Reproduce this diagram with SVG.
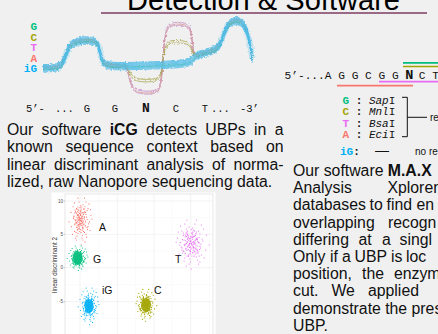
<svg xmlns="http://www.w3.org/2000/svg" width="438" height="334" viewBox="0 0 438 334">
<defs>
<style>
.t{font-family:"Liberation Sans",Arial,sans-serif;font-size:15.8px;fill:#111}
.b{font-weight:bold}
.mono{font-family:"Liberation Mono","Courier New",monospace;fill:#111}
.tr{fill:none;stroke-width:0.8;stroke-linejoin:round}
.grid{stroke:#ebebeb;stroke-width:0.6}
.gridm{stroke:#f5f5f5;stroke-width:0.4}
.tick{font-family:"Liberation Sans",Arial,sans-serif;font-size:4.5px;fill:#4d4d4d;text-anchor:end}
.lab{font-family:"Liberation Sans",Arial,sans-serif;font-size:10.5px;fill:#111}
.sm{font-family:"Liberation Sans",Arial,sans-serif;font-size:10px;fill:#111}
.cG{fill:#00BF7D}.cC{fill:#A3A500}.cT{fill:#E76BF3}.cA{fill:#F8766D}.ciG{fill:#00B0F6}
.bar{stroke-width:1.7}
</style>
<filter id="fz" x="-5%" y="-20%" width="110%" height="140%">
<feTurbulence type="fractalNoise" baseFrequency="0.45" numOctaves="2" seed="3"/>
<feDisplacementMap in="SourceGraphic" scale="3.5" xChannelSelector="R" yChannelSelector="G"/>
</filter>
<path id="tr" d="M43,68 C50,68 56,68 60,66 C64,63 66,52 70,46 C73,42 78,41 85,40.5 C92,40 96,41 98,45 C100,50 101,60 104,63 C107,66 115,66 125,66 L160,65 C175,64 186,64 191,61 C194,58 196,55 201,54 C208,52 214,51 218,47 C222,42 224,30 229,24 C233,20 238,20 242,23 C246,27 248,35 250,44 C251,50 252,55 252,59"/>
<path id="trP" d="M43,68 C50,68 56,68 60,66 C64,63 66,52 70,46 C73,42 78,41 85,40.5 C92,40 96,41 98,45 C100,50 101,60 104,63 C107,66 115,66 125,66 C128,67 129,80 133,88 C136,93 150,94 157,91 C161,88 162,75 163,60 C164,45 165,30 169,26 C173,23 183,23 188,26 C192,29 192,45 194,54 C196,56 198,55 201,54 C208,52 214,51 218,47 C222,42 224,30 229,24 C233,20 238,20 242,23 C246,27 248,35 250,44 C251,50 252,55 252,59"/>
<path id="trC" d="M43,68 C50,68 56,68 60,66 C64,63 66,52 70,46 C73,42 78,41 85,40.5 C92,40 96,41 98,45 C100,50 101,60 104,63 C107,66 115,66 125,66 C128,67 130,75 134,78 C138,81 152,81 157,79 C161,77 162,70 163,60 C164,50 166,44 170,42 C175,41 185,41 189,44 C192,47 192,52 194,55 C196,56 198,55 201,54 C208,52 214,51 218,47 C222,42 224,30 229,24 C233,20 238,20 242,23 C246,27 248,35 250,44 C251,50 252,55 252,59"/>
<path id="pts" fill="none" stroke-linecap="round" vector-effect="non-scaling-stroke" d="M3,-5h.01M-8,2h.01M12,7h.01M-2,-14h.01M5,11h.01M-15,-3h.01M0,4h.01M9,-9h.01M-6,13h.01M17,1h.01M-11,-10h.01M2,18h.01M7,-2h.01M-4,-20h.01M14,-13h.01M-19,6h.01M1,-1h.01M-7,-6h.01M10,14h.01M-1,9h.01M6,3h.01M-13,11h.01M4,-17h.01M-3,-8h.01M20,-6h.01M-9,20h.01M11,-4h.01M-5,5h.01M8,22h.01M-16,-15h.01M0,-11h.01M13,9h.01M-10,-1h.01M3,15h.01M-2,0h.01M16,-18h.01M-12,4h.01M5,-7h.01M-6,-24h.01M9,5h.01M-20,-9h.01M2,-3h.01M-4,8h.01M12,-11h.01M-8,16h.01M7,12h.01M-1,-16h.01M18,10h.01M-14,-5h.01M4,1h.01M1,25h.01M-3,-2h.01M10,-20h.01M-7,9h.01M6,-13h.01M-17,14h.01M15,3h.01M-9,-13h.01M0,12h.01M22,-2h.01M-5,-4h.01M3,7h.01M-11,18h.01M8,-15h.01M-2,3h.01M11,17h.01M-24,1h.01M6,-9h.01M-6,-12h.01M14,6h.01M-1,-7h.01M4,20h.01M-13,-19h.01M9,0h.01M-8,7h.01M19,-12h.01M2,10h.01M-4,-1h.01M7,-24h.01M-10,12h.01"/>
</defs>

<rect width="438" height="334" fill="#f0f0f0"/>

<g id="title">
<text x="127" y="10" font-family="Liberation Sans, Arial, sans-serif" font-size="29" fill="#000" textLength="273" lengthAdjust="spacingAndGlyphs">Detection &amp; Software</text>
<line x1="101" y1="13" x2="427" y2="13" stroke="#7d3c62" stroke-width="1.6"/>
</g>

<g id="traces" class="tr" filter="url(#fz)">
<use href="#tr" stroke="#5cc4ea" stroke-width="6" opacity="0.3"/>
<use href="#trP" stroke="#c387c9" transform="translate(0,-1.5)"/>
<use href="#trP" stroke="#c98fc0" transform="translate(0,1.5)"/>
<use href="#trP" stroke="#d59a95" transform="translate(0,0.3)"/>
<use href="#trC" stroke="#aaa64c" transform="translate(0,-1)"/>
<use href="#trC" stroke="#a9a755" transform="translate(0,1.5)"/>
<use href="#tr" stroke="#3ebf8c" transform="translate(0,1)"/>
<use href="#tr" stroke="#49b9e6" transform="translate(0,-3.5)"/>
<use href="#tr" stroke="#49b9e6" transform="translate(0,-2.5)"/>
<use href="#tr" stroke="#56bfe8" transform="translate(0,-1.5)"/>
<use href="#tr" stroke="#49b9e6" transform="translate(0,-0.5)"/>
<use href="#tr" stroke="#56bfe8" transform="translate(0,0.5)"/>
<use href="#tr" stroke="#49b9e6" transform="translate(0,1.8)"/>
<use href="#tr" stroke="#56bfe8" transform="translate(0,2.8)"/>
<use href="#tr" stroke="#49b9e6" transform="translate(0,3.8)"/>
</g>

<g id="trace-legend" class="mono b" font-size="11" text-anchor="end">
<text x="37" y="29.5" class="cG">G</text>
<text x="37" y="40.5" class="cC">C</text>
<text x="37" y="51" class="cT">T</text>
<text x="37" y="61.5" class="cA">A</text>
<text x="37" y="72" class="ciG">iG</text>
</g>

<g id="seq-left" class="mono" font-size="10.5">
<text x="26" y="111.5">5’-</text>
<text x="55" y="111.5">...</text>
<text x="87" y="111.5" text-anchor="middle">G</text>
<text x="115" y="111.5" text-anchor="middle">G</text>
<text x="146" y="111.5" text-anchor="middle" font-size="13" font-weight="bold">N</text>
<text x="176" y="111.5" text-anchor="middle">C</text>
<text x="205" y="111.5" text-anchor="middle">T</text>
<text x="211" y="111.5">...</text>
<text x="240" y="111.5">-3’</text>
</g>

<g id="text-left" class="t">
<text y="134.5"><tspan x="7">Our</tspan><tspan x="41.6">software</tspan><tspan x="109.7" class="b">iCG</tspan><tspan x="146.1">detects</tspan><tspan x="205.3">UBPs</tspan><tspan x="254">in</tspan><tspan x="274.7">a</tspan></text>
<text y="152"><tspan x="7">known</tspan><tspan x="65.4">sequence</tspan><tspan x="146.6">context</tspan><tspan x="210.2">based</tspan><tspan x="265.9">on</tspan></text>
<text y="169.5"><tspan x="7">linear</tspan><tspan x="53.9">discriminant</tspan><tspan x="146.5">analysis</tspan><tspan x="211.9">of</tspan><tspan x="233.4">norma-</tspan></text>
<text x="7" y="187">lized, raw Nanopore sequencing data.</text>
</g>

<g id="lda-plot">
<rect x="51.5" y="192.5" width="164" height="142" fill="#fff"/>
<g class="gridm">
<line x1="98.7" y1="194" x2="98.7" y2="334"/><line x1="135.7" y1="194" x2="135.7" y2="334"/><line x1="172.3" y1="194" x2="172.3" y2="334"/><line x1="209.5" y1="194" x2="209.5" y2="334"/>
<line x1="65" y1="217.7" x2="213" y2="217.7"/><line x1="65" y1="251" x2="213" y2="251"/><line x1="65" y1="284.7" x2="213" y2="284.7"/><line x1="65" y1="318.5" x2="213" y2="318.5"/>
</g>
<g class="grid">
<line x1="80" y1="194" x2="80" y2="334"/><line x1="117.3" y1="194" x2="117.3" y2="334"/><line x1="154" y1="194" x2="154" y2="334"/><line x1="190.7" y1="194" x2="190.7" y2="334"/>
<line x1="65" y1="201" x2="213" y2="201"/><line x1="65" y1="234.3" x2="213" y2="234.3"/><line x1="65" y1="267.7" x2="213" y2="267.7"/><line x1="65" y1="301.7" x2="213" y2="301.7"/>
</g>
<rect x="65" y="194" width="148" height="142" fill="none" stroke="#d6d6d6" stroke-width="0.6"/>
<g stroke="#999" stroke-width="0.5">
<line x1="63.5" y1="201" x2="65" y2="201"/><line x1="63.5" y1="234.3" x2="65" y2="234.3"/><line x1="63.5" y1="267.7" x2="65" y2="267.7"/><line x1="63.5" y1="301.7" x2="65" y2="301.7"/>
</g>
<text class="tick" x="63" y="202.6">10</text>
<text class="tick" x="63" y="235.9">5</text>
<text class="tick" x="63" y="269.3">0</text>
<text class="tick" x="63" y="303.3">-5</text>
<text transform="translate(57.3,265) rotate(-90)" text-anchor="middle" font-family="Liberation Sans, Arial, sans-serif" font-size="6.3" fill="#333">linear discriminant 2</text>

<g id="cluster-A">
<use href="#pts" stroke="#F8766D" stroke-width="1.2" transform="translate(81,221) scale(0.5,0.95)"/>
<use href="#pts" stroke="#F8766D" stroke-width="1.2" transform="translate(80,219) scale(-0.3,0.5)"/>
</g>
<g id="cluster-G">
<ellipse cx="77.5" cy="258" rx="5" ry="7" fill="#00BF7D" opacity="0.85"/>
<use href="#pts" stroke="#00BF7D" stroke-width="1.2" transform="translate(78,258) scale(0.45,0.5)"/>
<use href="#pts" stroke="#00BF7D" stroke-width="1.2" transform="translate(78,258) scale(-0.28,-0.32)"/>
</g>
<g id="cluster-T">
<use href="#pts" stroke="#E76BF3" stroke-width="1.2" transform="translate(192,244) scale(-0.72,1)"/>
<use href="#pts" stroke="#E76BF3" stroke-width="1.2" transform="translate(191,243) scale(0.45,-0.55)"/>
</g>
<g id="cluster-iG">
<ellipse cx="89" cy="306" rx="4.5" ry="7" fill="#00B0F6" opacity="0.85"/>
<use href="#pts" stroke="#00B0F6" stroke-width="1.2" transform="translate(89,306) scale(0.45,0.75)"/>
<use href="#pts" stroke="#00B0F6" stroke-width="1.2" transform="translate(89,306) scale(-0.28,-0.4)"/>
</g>
<g id="cluster-C">
<ellipse cx="146" cy="305" rx="5" ry="7" fill="#A3A500" opacity="0.85"/>
<use href="#pts" stroke="#A3A500" stroke-width="1.2" transform="translate(146,305) scale(-0.45,0.65)"/>
<use href="#pts" stroke="#A3A500" stroke-width="1.2" transform="translate(146,305) scale(0.28,-0.38)"/>
</g>
<text class="lab" x="99" y="231">A</text>
<text class="lab" x="93" y="263">G</text>
<text class="lab" x="175" y="263">T</text>
<text class="lab" x="102" y="294">iG</text>
<text class="lab" x="154" y="294">C</text>
</g>

<g id="seq-right">
<text class="mono" x="284.5" y="78.5" font-size="11.2" xml:space="preserve">5’-...A G G C G G <tspan font-weight="bold" font-size="13.5">N</tspan><tspan x="412.1"> C T</tspan></text>
<line class="bar" x1="403" y1="62.8" x2="438" y2="62.8" stroke="#00BF7D"/>
<line class="bar" x1="403" y1="66.5" x2="438" y2="66.5" stroke="#A3A500"/>
<line class="bar" x1="379" y1="81.7" x2="438" y2="81.7" stroke="#E76BF3"/>
<line class="bar" x1="337" y1="85.7" x2="413" y2="85.7" stroke="#F8766D"/>
</g>

<g id="enzymes" class="mono" font-size="11">
<text x="342.5" y="104" xml:space="preserve"><tspan class="cG" font-weight="bold">G</tspan><tspan font-weight="bold"> : </tspan><tspan font-style="italic">Sap</tspan>I</text>
<text x="342.5" y="115.3" xml:space="preserve"><tspan class="cC" font-weight="bold">C</tspan><tspan font-weight="bold"> : </tspan><tspan font-style="italic">Mnl</tspan>I</text>
<text x="342.5" y="126.6" xml:space="preserve"><tspan class="cT" font-weight="bold">T</tspan><tspan font-weight="bold"> : </tspan><tspan font-style="italic">Bsa</tspan>I</text>
<text x="342.5" y="138" xml:space="preserve"><tspan class="cA" font-weight="bold">A</tspan><tspan font-weight="bold"> : </tspan><tspan font-style="italic">Eci</tspan>I</text>
<text x="340" y="154.5"><tspan class="ciG" font-weight="bold">iG</tspan><tspan font-weight="bold">:</tspan></text>
<text x="375" y="155" font-family="Liberation Sans, Arial, sans-serif" font-size="14" fill="#111">—</text>
<text class="sm" x="430" y="120.5">re</text>
<text class="sm" x="415" y="154.5">no re</text>
</g>

<g id="connectors" fill="none" stroke="#111" stroke-width="1">
<path d="M402,97.3 H407.3 V136.7 H402"/>
<path d="M407.3,117.3 H427"/>
</g>

<g id="text-right" class="t">
<text x="293" y="176">Our software <tspan class="b">M.A.X</tspan></text>
<text y="193.2"><tspan x="293">Analysis</tspan><tspan x="387.5">Xploren</tspan></text>
<text y="210.4"><tspan x="293">databases</tspan><tspan x="369.5">to</tspan><tspan x="386.5">find</tspan><tspan x="416.5">en</tspan></text>
<text y="227.6"><tspan x="293">overlapping</tspan><tspan x="388">recogn</tspan></text>
<text y="244.8"><tspan x="293">differing</tspan><tspan x="358.5">at</tspan><tspan x="382">a</tspan><tspan x="399.5">singl</tspan></text>
<text y="262"><tspan x="293">Only</tspan><tspan x="330">if</tspan><tspan x="342">a</tspan><tspan x="354.5">UBP</tspan><tspan x="391">is</tspan><tspan x="406">loc</tspan></text>
<text y="279.2"><tspan x="293">position,</tspan><tspan x="362">the</tspan><tspan x="394">enzym</tspan></text>
<text y="296.4"><tspan x="293">cut.</tspan><tspan x="331.5">We</tspan><tspan x="368">applied</tspan></text>
<text x="293" y="313.6">demonstrate the pres</text>
<text x="293" y="330.8">UBP.</text>
</g>
</svg>
